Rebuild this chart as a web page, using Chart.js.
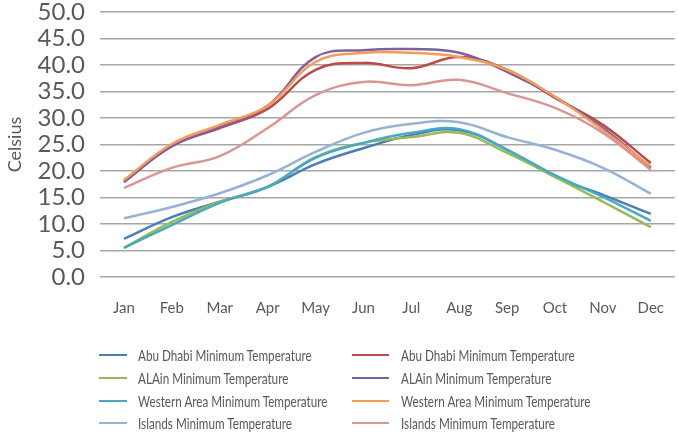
<!DOCTYPE html>
<html>
<head>
<meta charset="utf-8">
<script src="https://cdn.jsdelivr.net/npm/chart.js@4/dist/chart.umd.min.js"></script>
<style>
  html, body { margin: 0; padding: 0; background: #fff; }
  #wrap { position: relative; width: 678px; height: 434px; }
  #chart { position: absolute; left: 0; top: 0; }
  .leg { position: absolute; height: 20px; font-family: Lato, sans-serif; font-size: 15px; color: #595959; white-space: nowrap; }
  .leg i { position: absolute; top: 9px; height: 2px; }
  .leg span { position: absolute; top: 0; line-height: 20px; transform: scaleX(0.78); transform-origin: left center; }
</style>
</head>
<body>
<div id="wrap">
  <canvas id="chart" width="678" height="434"></canvas>
  <div id="legend"></div>
</div>
<script>
// Datos (°C)
const months = ['Jan', 'Feb', 'Mar', 'Apr', 'May', 'Jun', 'Jul', 'Aug', 'Sep', 'Oct', 'Nov', 'Dec'];
const yTicks = [0, 5, 10, 15, 20, 25, 30, 35, 40, 45, 50];

const abuDhabiMin = [7.2, 11.3, 14.2, 17.0, 21.3, 24.3, 26.8, 27.7, 24.0, 18.9, 15.5, 11.9];
const alAinMin    = [5.5, 10.4, 14.2, 17.0, 22.6, 25.3, 26.4, 27.2, 23.4, 18.9, 14.2, 9.4];
const westernMin  = [5.5, 9.8, 14.0, 17.0, 22.5, 25.3, 27.2, 27.9, 24.0, 19.2, 15.1, 10.6];
const islandsMin  = [11.1, 13.2, 15.8, 19.2, 23.6, 27.2, 28.9, 29.2, 26.4, 24.0, 20.6, 15.7];
const abuDhabiMax = [18.1, 24.7, 28.1, 31.7, 39.1, 40.4, 39.4, 41.5, 39.1, 33.8, 28.7, 21.5];
const alAinMax    = [17.9, 24.7, 28.3, 32.3, 41.5, 42.8, 43.0, 42.3, 38.7, 34.0, 28.1, 20.6];
const westernMax  = [18.3, 25.1, 28.7, 32.3, 40.6, 42.3, 42.3, 41.5, 39.1, 34.0, 27.7, 20.9];
const islandsMax  = [16.8, 20.6, 22.8, 28.1, 34.3, 36.8, 36.2, 37.2, 34.7, 31.9, 27.2, 20.2];

const seriesLabels = [
    'Abu Dhabi Minimum Temperature',
    'ALAin Minimum Temperature',
    'Western Area Minimum Temperature',
    'Islands Minimum Temperature',
    'Abu Dhabi Minimum Temperature',
    'ALAin Minimum Temperature',
    'Western Area Minimum Temperature',
    'Islands Minimum Temperature'
];
const seriesData = [abuDhabiMin, alAinMin, westernMin, islandsMin, abuDhabiMax, alAinMax, westernMax, islandsMax];
const seriesColors = ['#4a7ebb', '#98b954', '#46aac5', '#95b3d7', '#be4b48', '#7d60a0', '#f59d56', '#d99694'];

const datasets = seriesData.map((values, i) => ({
    label: seriesLabels[i],
    data: values,
    borderColor: seriesColors[i],
    backgroundColor: seriesColors[i],
    borderWidth: 2.5,
    pointRadius: 0,
    tension: 0.4,
    fill: false,
    order: seriesData.length - i // la última serie queda encima, como en Excel
}));

const ctx = document.getElementById('chart');
new Chart(ctx, {
    type: 'line',
    data: { labels: months, datasets: datasets },
    options: {
        responsive: false,
        animation: false,
        layout: { padding: { top: 12, right: 0, bottom: 117, left: 0 } },
        plugins: {
            legend: { display: false },
            tooltip: { enabled: false }
        },
        scales: {
            x: {
                offset: true,
                grid: { display: false },
                border: { display: false },
                ticks: {
                    color: '#595959',
                    padding: 14,
                    font: { family: 'Lato', size: 15 }
                },
                afterFit: s => { s.height = 40; }
            },
            y: {
                min: 0,
                max: 50,
                afterBuildTicks: s => { s.ticks = yTicks.map(v => ({ value: v })); },
                grid: { color: '#a6a6a6', lineWidth: 1.5, drawTicks: false },
                border: { display: false },
                ticks: {
                    autoSkip: false,
                    color: '#595959',
                    padding: 15,
                    font: { family: 'Lato', size: 24 },
                    callback: v => v.toFixed(1)
                },
                title: {
                    display: true,
                    text: 'Celsius',
                    color: '#595959',
                    font: { family: 'Lato', size: 18 }
                },
                afterFit: s => {
                    s.width = 100;
                    s.paddingTop = 0;
                    s.paddingBottom = 0;
                }
            }
        }
    }
});

// Leyenda en dos columnas
const legendRows = [345, 368, 391, 413];
const legendCols = [
    { line: 99, lineW: 28, text: 138 },
    { line: 352, lineW: 37, text: 401 }
];
const legendEl = document.getElementById('legend');
seriesLabels.forEach((label, i) => {
    const col = legendCols[Math.floor(i / 4)];
    const item = document.createElement('div');
    item.className = 'leg';
    item.style.left = '0px';
    item.style.top = legendRows[i % 4] + 'px';
    item.innerHTML = `<i style="left:${col.line}px;width:${col.lineW}px;background:${seriesColors[i]}"></i>` +
        `<span style="left:${col.text}px">${label}</span>`;
    legendEl.appendChild(item);
});
</script>
</body>
</html>
